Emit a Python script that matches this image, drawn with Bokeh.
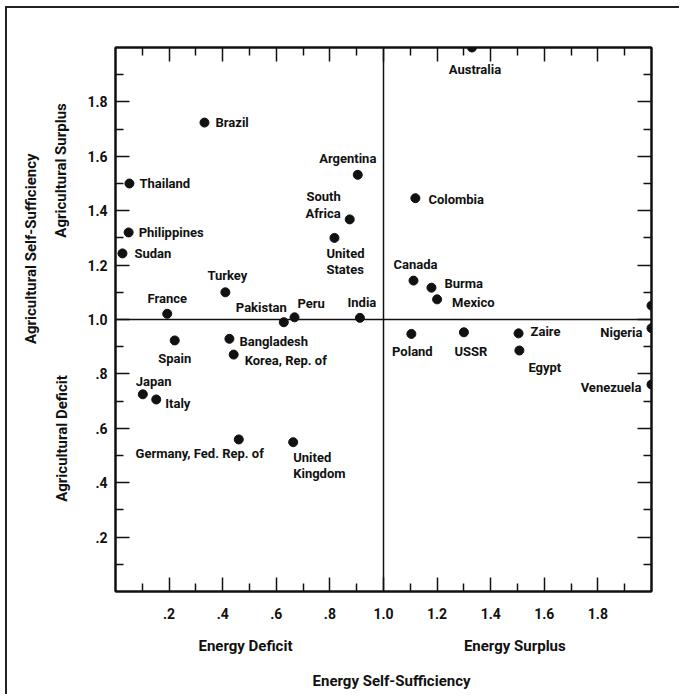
import numpy as np
from bokeh.plotting import figure
from bokeh.models import (LinearAxis, FixedTicker, CustomJSTickFormatter, Span,
                          ColumnDataSource, Range1d)
from bokeh.core.properties import value
from bokeh.embed import file_html
from bokeh.resources import INLINE

# ---------------- data ----------------
countries = ["Australia", "Brazil", "Thailand", "Philippines", "Sudan",
             "Argentina", "South Africa", "United States", "Colombia",
             "Canada", "Burma", "Mexico", "Turkey", "France", "Pakistan",
             "Peru", "India", "Spain", "Bangladesh", "Korea, Rep. of",
             "Japan", "Italy", "Germany, Fed. Rep. of", "United Kingdom",
             "Poland", "USSR", "Zaire", "Egypt", "Nigeria", "", "Venezuela"]
energy = [1.33, 0.332, 0.052, 0.049, 0.026,
          0.904, 0.874, 0.817, 1.119,
          1.112, 1.179, 1.20, 0.41, 0.193, 0.628,
          0.668, 0.912, 0.221, 0.425, 0.441,
          0.102, 0.152, 0.46, 0.663,
          1.104, 1.30, 1.504, 1.507, 2.0, 2.0, 2.0]
agri = [2.0, 1.724, 1.50, 1.32, 1.243,
        1.532, 1.368, 1.30, 1.446,
        1.143, 1.117, 1.074, 1.10, 1.021, 0.99,
        1.008, 1.006, 0.923, 0.929, 0.871,
        0.725, 0.706, 0.559, 0.549,
        0.947, 0.953, 0.949, 0.886, 0.968, 1.051, 0.761]
major_ticks = [0.2, 0.4, 0.6, 0.8, 1.0, 1.2, 1.4, 1.6, 1.8]
minor_ticks = [0.1, 0.3, 0.5, 0.7, 0.9, 1.1, 1.3, 1.5, 1.7, 1.9]
x_titles = ["Energy Deficit", "Energy Surplus"]
x_main_title = "Energy Self-Sufficiency"
y_titles = ["Agricultural Deficit", "Agricultural Surplus"]
y_main_title = "Agricultural Self-Sufficiency"

# ---------------- placement (style) ----------------
x_title_pos = [0.485, 1.49]
x_main_pos = [1.03]
y_title_pos = [0.5625, 1.548]
y_main_pos = [1.26]

display_lines = {"South Africa": ["South", "Africa"],
                 "United States": ["United", "States"],
                 "United Kingdom": ["United", "Kingdom"]}
# name: (dx, [dy per line], align)
placement = {
    "Australia": (3, [22], "center"),
    "Brazil": (11, [0], "left"),
    "Thailand": (10, [0], "left"),
    "Philippines": (10, [0], "left"),
    "Sudan": (12, [0], "left"),
    "Argentina": (-10, [-16], "center"),
    "South Africa": (-9, [-23, -6], "right"),
    "United States": (-8, [16, 32], "left"),
    "Colombia": (13, [1], "left"),
    "Canada": (2, [-16], "center"),
    "Burma": (13, [-4], "left"),
    "Mexico": (15, [3], "left"),
    "Turkey": (2, [-17], "center"),
    "France": (0, [-15], "center"),
    "Pakistan": (3, [-15], "right"),
    "Peru": (3, [-14], "left"),
    "India": (2, [-15], "center"),
    "Spain": (0, [18], "center"),
    "Bangladesh": (10, [3], "left"),
    "Korea, Rep. of": (11, [6], "left"),
    "Japan": (-7, [-13], "left"),
    "Italy": (9, [4], "left"),
    "Germany, Fed. Rep. of": (25, [14], "right"),
    "United Kingdom": (0, [15, 31], "left"),
    "Poland": (1, [18], "center"),
    "USSR": (7, [19], "center"),
    "Zaire": (12, [-2], "left"),
    "Egypt": (9, [17], "left"),
    "Nigeria": (-9, [4], "right"),
    "Venezuela": (-10, [3], "right"),
}

FONT = "Roboto"
INK = "#111111"

p = figure(width=674, height=688, output_backend="svg", toolbar_location=None,
           x_range=Range1d(0, 2), y_range=Range1d(0, 2),
           min_border_left=108, min_border_top=39, min_border_right=30,
           min_border_bottom=105, x_axis_location=None, y_axis_location=None)
p.xgrid.visible = False
p.ygrid.visible = False
p.outline_line_color = INK
p.outline_line_width = 2
p.background_fill_color = "white"
p.border_fill_color = "white"
p.styles = {"margin-left": "5px", "margin-top": "6px",
            "border-top": "2px solid #222", "border-left": "2px solid #222"}

fmt = CustomJSTickFormatter(code="return tick.toFixed(1).replace(/^0/, '');")
blank = CustomJSTickFormatter(code="return '';")


def tick_axis(formatter):
    ax = LinearAxis(ticker=FixedTicker(ticks=major_ticks, minor_ticks=minor_ticks),
                    formatter=formatter)
    ax.axis_line_color = INK
    ax.axis_line_width = 2
    ax.major_tick_in = 14
    ax.major_tick_out = 0
    ax.minor_tick_in = 8
    ax.minor_tick_out = 0
    ax.major_tick_line_color = INK
    ax.minor_tick_line_color = INK
    ax.major_tick_line_width = 1.5
    ax.minor_tick_line_width = 1.5
    ax.major_label_text_font = FONT
    ax.major_label_text_font_style = "bold"
    ax.major_label_text_font_size = "14px"
    ax.major_label_text_color = INK
    return ax


def title_axis(positions, labels, standoff, orientation="horizontal"):
    ax = LinearAxis(ticker=FixedTicker(ticks=positions),
                    formatter=CustomJSTickFormatter(args=dict(labels=labels),
                                                    code="return labels[index];"))
    ax.axis_line_color = None
    ax.major_tick_line_color = None
    ax.minor_tick_line_color = None
    ax.major_tick_in = 0
    ax.major_tick_out = 0
    ax.minor_tick_in = 0
    ax.minor_tick_out = 0
    ax.major_label_standoff = standoff
    ax.major_label_orientation = orientation
    ax.major_label_text_font = FONT
    ax.major_label_text_font_style = "bold"
    ax.major_label_text_font_size = "15px"
    ax.major_label_text_color = INK
    return ax


bottom = tick_axis(fmt)
bottom.major_label_standoff = 16
left = tick_axis(fmt)
left.major_label_standoff = 8
top = tick_axis(blank)
right = tick_axis(blank)
p.add_layout(bottom, "below")
p.add_layout(title_axis(x_title_pos, x_titles, 15), "below")
p.add_layout(title_axis(x_main_pos, [x_main_title], 14), "below")
p.add_layout(left, "left")
p.add_layout(title_axis(y_title_pos, y_titles, 14, "vertical"), "left")
p.add_layout(title_axis(y_main_pos, [y_main_title], 9, "vertical"), "left")
p.add_layout(top, "above")
p.add_layout(right, "right")

p.add_layout(Span(location=1.0, dimension="width", line_color=INK, line_width=1.5))
p.add_layout(Span(location=1.0, dimension="height", line_color=INK, line_width=1.5))

src = ColumnDataSource(dict(x=energy, y=agri))
p.scatter("x", "y", source=src, size=9, fill_color=INK, line_color=INK)

# country labels
groups = {"left": dict(x=[], y=[], t=[], dx=[], dy=[]),
          "center": dict(x=[], y=[], t=[], dx=[], dy=[]),
          "right": dict(x=[], y=[], t=[], dx=[], dy=[])}
for name, ex, ay in zip(countries, energy, agri):
    if not name:
        continue
    dx, dys, align = placement[name]
    lines = display_lines.get(name, [name])
    for line, dy in zip(lines, dys):
        g = groups[align]
        g["x"].append(ex); g["y"].append(ay); g["t"].append(line)
        g["dx"].append(dx); g["dy"].append(dy)
for align, g in groups.items():
    p.text("x", "y", text="t", x_offset="dx", y_offset="dy",
           source=ColumnDataSource(g), text_align=align, text_baseline="middle",
           text_font=value(FONT), text_font_style="bold",
           text_font_size="13px", text_color=INK)

open("out.html", "w").write(file_html(p, INLINE))
